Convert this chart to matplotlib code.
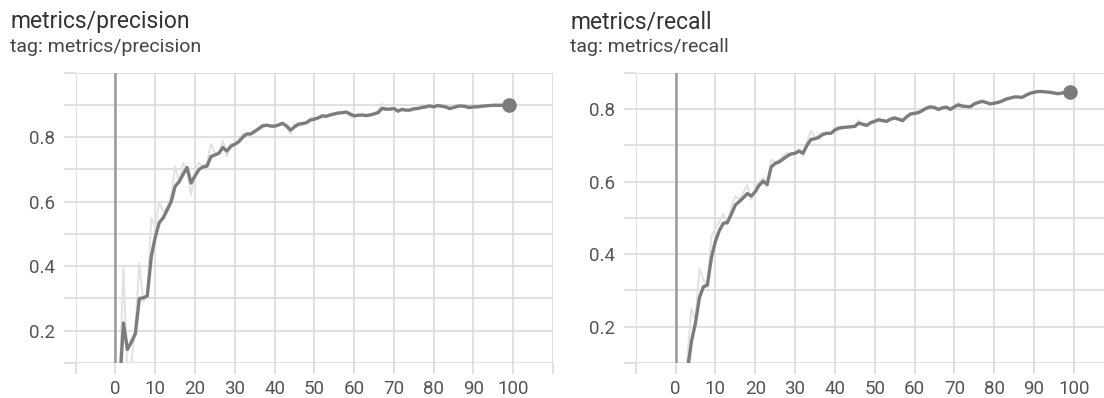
import numpy as np
import matplotlib
matplotlib.use("Agg")
import matplotlib.pyplot as plt

plt.rcParams['font.family'] = ['Roboto', 'DejaVu Sans']

# ===== DATA =====
epochs = list(range(100))

precision_smooth = [
    0.0, 0.02, 0.224, 0.142, 0.165, 0.191, 0.30, 0.302, 0.308, 0.43,
    0.49, 0.535, 0.55, 0.575, 0.60, 0.648, 0.662, 0.685, 0.706, 0.658,
    0.68, 0.70, 0.708, 0.71, 0.74, 0.745, 0.75, 0.768, 0.757, 0.772,
    0.778, 0.786, 0.80, 0.81, 0.81, 0.818, 0.826, 0.835, 0.837, 0.835,
    0.834, 0.838, 0.843, 0.835, 0.822, 0.832, 0.84, 0.842, 0.845, 0.853,
    0.856, 0.86, 0.866, 0.865, 0.869, 0.872, 0.875, 0.876, 0.878, 0.872,
    0.866, 0.868, 0.869, 0.867, 0.869, 0.872, 0.876, 0.889, 0.887, 0.887,
    0.889, 0.881, 0.886, 0.884, 0.884, 0.888, 0.889, 0.892, 0.894, 0.897,
    0.894, 0.898, 0.896, 0.894, 0.889, 0.892, 0.896, 0.897, 0.895, 0.892,
    0.894, 0.894, 0.896, 0.897, 0.898, 0.899, 0.899, 0.899, 0.898, 0.899,
]
precision_raw = [
    0.0, 0.03, 0.40, 0.06, 0.10, 0.21, 0.41, 0.29, 0.31, 0.55,
    0.52, 0.60, 0.57, 0.58, 0.62, 0.71, 0.66, 0.72, 0.70, 0.62,
    0.70, 0.72, 0.71, 0.72, 0.78, 0.75, 0.75, 0.79, 0.74, 0.78,
    0.78, 0.79, 0.81, 0.81, 0.81, 0.82, 0.83, 0.84, 0.84, 0.83,
    0.835, 0.84, 0.845, 0.83, 0.81, 0.84, 0.845, 0.84, 0.85, 0.86,
    0.858, 0.862, 0.87, 0.862, 0.872, 0.874, 0.878, 0.876, 0.88, 0.865,
    0.864, 0.87, 0.868, 0.866, 0.87, 0.875, 0.88, 0.905, 0.885, 0.886,
    0.892, 0.878, 0.89, 0.882, 0.886, 0.89, 0.888, 0.895, 0.896, 0.90,
    0.892, 0.902, 0.895, 0.893, 0.886, 0.894, 0.898, 0.898, 0.894, 0.89,
    0.895, 0.894, 0.898, 0.897, 0.899, 0.90, 0.899, 0.90, 0.898, 0.90,
]

recall_smooth = [
    0.0, 0.0, 0.02, 0.08, 0.16, 0.21, 0.28, 0.31, 0.315, 0.39,
    0.435, 0.465, 0.485, 0.487, 0.51, 0.535, 0.545, 0.555, 0.567, 0.56,
    0.572, 0.59, 0.601, 0.592, 0.64, 0.65, 0.654, 0.662, 0.67, 0.676,
    0.678, 0.684, 0.678, 0.70, 0.716, 0.718, 0.722, 0.73, 0.733, 0.733,
    0.742, 0.747, 0.749, 0.75, 0.751, 0.752, 0.761, 0.758, 0.755, 0.762,
    0.766, 0.77, 0.768, 0.766, 0.772, 0.775, 0.772, 0.768, 0.778, 0.786,
    0.788, 0.79, 0.796, 0.802, 0.806, 0.804, 0.799, 0.803, 0.805, 0.799,
    0.806, 0.811, 0.808, 0.807, 0.806, 0.814, 0.818, 0.821, 0.818, 0.814,
    0.816, 0.818, 0.822, 0.827, 0.83, 0.833, 0.833, 0.832, 0.838, 0.843,
    0.846, 0.848, 0.848, 0.847, 0.846, 0.844, 0.842, 0.844, 0.846, 0.846,
]
recall_raw = [
    0.0, 0.0, 0.03, 0.12, 0.25, 0.22, 0.36, 0.33, 0.31, 0.45,
    0.47, 0.49, 0.51, 0.48, 0.53, 0.56, 0.55, 0.57, 0.59, 0.55,
    0.58, 0.60, 0.61, 0.585, 0.66, 0.655, 0.66, 0.67, 0.68, 0.675,
    0.68, 0.69, 0.67, 0.71, 0.74, 0.72, 0.73, 0.735, 0.735, 0.732,
    0.75, 0.75, 0.75, 0.752, 0.752, 0.754, 0.77, 0.757, 0.752, 0.765,
    0.77, 0.775, 0.766, 0.764, 0.776, 0.779, 0.77, 0.765, 0.782, 0.79,
    0.79, 0.792, 0.80, 0.806, 0.808, 0.802, 0.796, 0.806, 0.807, 0.796,
    0.81, 0.818, 0.806, 0.808, 0.804, 0.818, 0.82, 0.824, 0.816, 0.812,
    0.817, 0.82, 0.825, 0.83, 0.832, 0.835, 0.834, 0.832, 0.841, 0.846,
    0.848, 0.849, 0.848, 0.847, 0.845, 0.843, 0.841, 0.845, 0.847, 0.846,
]

x_ticks = list(range(-10, 111, 10))
x_labels = ['' if t < 0 or t > 100 else str(t) for t in x_ticks]
y_labelled = [0.2, 0.4, 0.6, 0.8]

GRID = '#d9d9d9'
LINE = '#7c7c7c'
RAW = '#e2e2e2'
TEXT = '#555555'

W, H = 1104, 398


def draw_panel(fig, left_px, right_px, title_px, title, raw, smooth, ylim):
    bottom = 1 - 363 / H
    height = (363 - 72.7) / H
    ax = fig.add_axes([left_px / W, bottom, (right_px - left_px) / W, height])
    ax.set_xlim(-10, 110)
    ax.set_ylim(*ylim)

    ax.plot(epochs, raw, color=RAW, lw=1.4, zorder=3)
    ax.plot(epochs, smooth, color=LINE, lw=2.4, zorder=4)
    ax.plot(epochs[-1], smooth[-1], 'o', color=LINE, ms=9.5, zorder=5)

    # zero line (darker than the grid)
    ax.axvline(0, color='#9a9a9a', lw=1.8, zorder=2.5)

    yt = np.round(np.arange(ylim[0], ylim[1] + 0.001, 0.1), 2)
    ax.set_xticks(x_ticks)
    ax.set_xticklabels(x_labels)
    ax.set_yticks(yt)
    ax.set_yticklabels(['%.1f' % v if v in y_labelled else '' for v in yt])
    ax.grid(True, color=GRID, lw=1.1, zorder=0)
    for s in ax.spines.values():
        s.set_visible(False)
    ax.tick_params(axis='x', length=8, width=1.1, color=GRID, pad=4,
                   labelsize=13.5, labelcolor=TEXT)
    ax.tick_params(axis='y', length=9, width=1.1, color=GRID, pad=6,
                   labelsize=13.5, labelcolor=TEXT)

    fig.text(title_px / W, 1 - 28 / H, title, fontsize=16.5,
             color='#333333', va='baseline', ha='left')
    fig.text(title_px / W, 1 - 52 / H, 'tag: ' + title, fontsize=14,
             color='#444444', va='baseline', ha='left')
    return ax


fig = plt.figure(figsize=(W / 100, H / 100), dpi=100)

draw_panel(fig, 75.7, 553, 10, 'metrics/precision',
           precision_raw, precision_smooth, (0.1, 1.0))
draw_panel(fig, 635.7, 1113.7, 570, 'metrics/recall',
           recall_raw, recall_smooth, (0.1, 0.9))

fig.savefig('out.png', dpi=100)
